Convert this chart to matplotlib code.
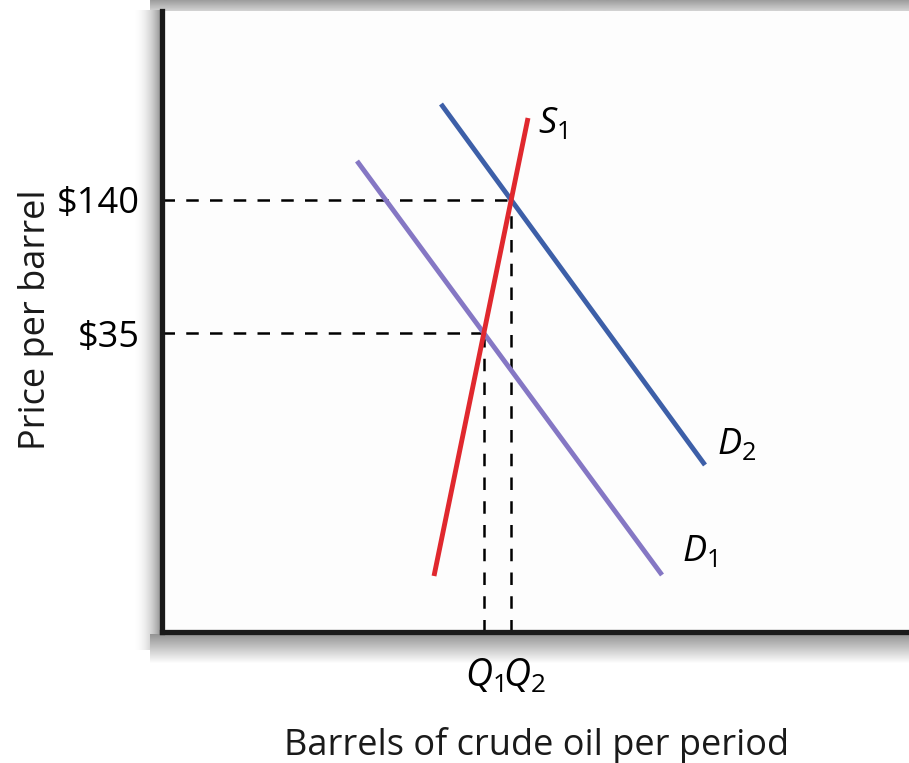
import matplotlib
matplotlib.use("Agg")
import matplotlib.pyplot as plt
import numpy as np

plt.rcParams['font.family'] = ['Open Sans', 'DejaVu Sans']
plt.rcParams['mathtext.fontset'] = 'custom'
plt.rcParams['mathtext.it'] = 'Open Sans:italic'
plt.rcParams['mathtext.rm'] = 'Open Sans'

# Schematic curves (quantity, price) in arbitrary chart units
s1_q = [272, 366]
s1_p = [56, 514]
d1_q = [195, 500]
d1_p = [471, 57]
d2_q = [279, 543]
d2_p = [528, 167]

price_labels = ["$35", "$140"]
qty_labels = [r"$Q_1$", r"$Q_2$"]
curve_names = [r"$S_1$", r"$D_1$", r"$D_2$"]

RED = "#e0282e"
BLUE = "#3d5fa8"
PURPLE = "#8577c4"
W, H = 909, 763


def intersect(q1, p1, q2, p2):
    m1 = (p1[1] - p1[0]) / (q1[1] - q1[0])
    m2 = (p2[1] - p2[0]) / (q2[1] - q2[0])
    b1 = p1[0] - m1 * q1[0]
    b2 = p2[0] - m2 * q2[0]
    q = (b2 - b1) / (m1 - m2)
    return q, m1 * q + b1


e1 = intersect(s1_q, s1_p, d1_q, d1_p)
e2 = intersect(s1_q, s1_p, d2_q, d2_p)

fig = plt.figure(figsize=(W / 100, H / 100), dpi=100)


def band(x0, y0, w, h, grad, vertical):
    a = fig.add_axes([x0 / W, 1 - (y0 + h) / H, w / W, h / H], zorder=0)
    g = np.array(grad)
    img = g[:, None] if vertical else g[None, :]
    a.imshow(img, cmap="gray", vmin=0, vmax=1, aspect="auto",
             interpolation="bilinear")
    a.set_axis_off()


# soft drop-shadow bands around the plotting panel
band(150, 0, 759, 11, np.linspace(0.62, 0.82, 10), True)
band(132, 10, 30, 640, 1 - 0.45 * np.linspace(0, 1, 30) ** 2.2, False)
band(150, 634, 759, 30, 1 - 0.42 * np.linspace(1, 0, 30) ** 1.0, True)

ax = fig.add_axes([162 / W, 131 / H, 747 / W, 621 / H], zorder=2)
ax.set_facecolor("#fdfdfd")
ax.set_xlim(0, 747)
ax.set_ylim(0, 621)

dash = (0, (5, 4.5))
for e in (e1, e2):
    ax.plot([0, e[0]], [e[1], e[1]], color="black", lw=1.8, ls=dash)
    ax.plot([e[0], e[0]], [0, e[1]], color="black", lw=1.8, ls=dash)

ax.plot(d1_q, d1_p, color=PURPLE, lw=3.5, solid_capstyle="butt")
ax.plot(d2_q, d2_p, color=BLUE, lw=3.5, solid_capstyle="butt")
ax.plot(s1_q, s1_p, color=RED, lw=3.5, solid_capstyle="butt")

ax.text(s1_q[1] + 10, s1_p[1] - 6, curve_names[0], fontsize=26, va="center", ha="left")
ax.text(d1_q[1] + 20, d1_p[1] + 23, curve_names[1], fontsize=26, va="center", ha="left")
ax.text(d2_q[1] + 12, d2_p[1] + 20, curve_names[2], fontsize=26, va="center", ha="left")

ax.set_yticks([e1[1], e2[1]])
ax.set_yticklabels(price_labels, fontsize=26)
ax.set_xticks([e1[0], e2[0] + 13])
ax.set_xticklabels(qty_labels, fontsize=27)
ax.tick_params(axis="y", length=0, pad=16)
ax.tick_params(axis="x", length=0, pad=18)

for s in ("top", "right"):
    ax.spines[s].set_visible(False)
for s in ("left", "bottom"):
    ax.spines[s].set_linewidth(3.8)
    ax.spines[s].set_color("#1a1a1a")

fig.text(36 / W, 1 - 320 / H, "Price per barrel", fontsize=26, rotation=90,
         ha="center", va="center", color="#1a1a1a")
fig.text(537 / W, 1 - 746 / H, "Barrels of crude oil per period", fontsize=26,
         ha="center", va="center", color="#1a1a1a")

fig.savefig("out.png", dpi=100, facecolor="white")
